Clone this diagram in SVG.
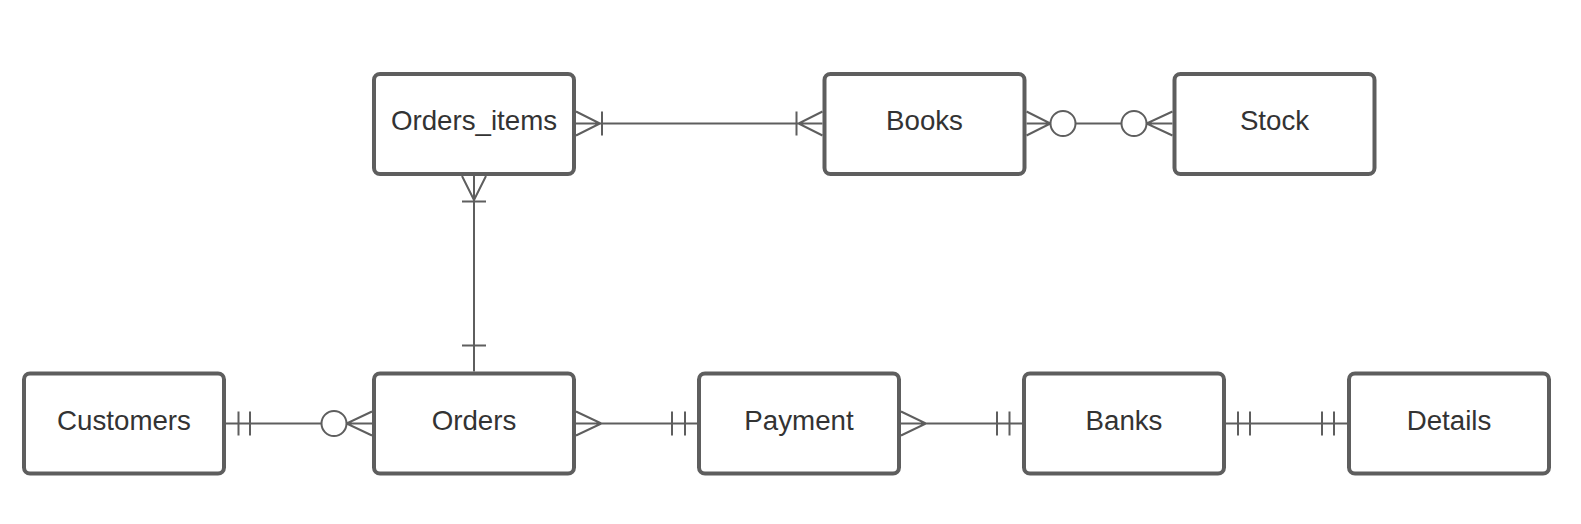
<svg xmlns="http://www.w3.org/2000/svg" width="1581" height="524" viewBox="0 0 1581 524">
<style>
.box{fill:#ffffff;stroke:#5e5e5e;stroke-width:4}
.lbl{font-family:"Liberation Sans",Arial,sans-serif;font-size:27.7px;fill:#333333;text-anchor:middle}
.c{fill:none;stroke:#5e5e5e;stroke-width:2}
.o{fill:#ffffff;stroke:#5e5e5e;stroke-width:2}
</style>
<rect width="1581" height="524" fill="#ffffff"/>
<g id="connectors">
  <!-- Orders_items - Books -->
  <path class="c" d="M576 123.5H822.5 M576 111.5L600 123.5L576 135.5 M602 111.5V135.5 M822.5 111.5L798.5 123.5L822.5 135.5 M796.5 111.5V135.5"/>
  <!-- Books - Stock -->
  <path class="c" d="M1026.5 123.5H1172.5 M1026.5 111.5L1050.5 123.5L1026.5 135.5 M1172.5 111.5L1146.5 123.5L1172.5 135.5"/>
  <circle class="o" cx="1063" cy="123.5" r="12.5"/>
  <circle class="o" cx="1134" cy="123.5" r="12.5"/>
  <!-- Orders_items - Orders -->
  <path class="c" d="M474 176V371.5 M462 176L474 200L486 176 M462 201.5H486 M462 345.5H486"/>
  <!-- Customers - Orders -->
  <path class="c" d="M226 423.5H372 M238.5 411.5V435.5 M250 411.5V435.5 M372 411.5L346.5 423.5L372 435.5"/>
  <circle class="o" cx="334" cy="423.5" r="12.5"/>
  <!-- Orders - Payment -->
  <path class="c" d="M576 423.5H697 M576 411.5L601.5 423.5L576 435.5 M672 411.5V435.5 M685 411.5V435.5"/>
  <!-- Payment - Banks -->
  <path class="c" d="M901 423.5H1022 M901 411.5L926 423.5L901 435.5 M997 411.5V435.5 M1009.5 411.5V435.5"/>
  <!-- Banks - Details -->
  <path class="c" d="M1226 423.5H1347 M1238 411.5V435.5 M1250 411.5V435.5 M1322 411.5V435.5 M1334 411.5V435.5"/>
</g>
<g id="node-orders-items"><rect class="box" x="374" y="74" width="200" height="100" rx="6"/><text class="lbl" x="474" y="130">Orders_items</text></g>
<g id="node-books"><rect class="box" x="824.5" y="74" width="200" height="100" rx="6"/><text class="lbl" x="924.5" y="130">Books</text></g>
<g id="node-stock"><rect class="box" x="1174.5" y="74" width="200" height="100" rx="6"/><text class="lbl" x="1274.5" y="130">Stock</text></g>
<g id="node-customers"><rect class="box" x="24" y="373.5" width="200" height="100" rx="6"/><text class="lbl" x="124" y="430">Customers</text></g>
<g id="node-orders"><rect class="box" x="374" y="373.5" width="200" height="100" rx="6"/><text class="lbl" x="474" y="430">Orders</text></g>
<g id="node-payment"><rect class="box" x="699" y="373.5" width="200" height="100" rx="6"/><text class="lbl" x="799" y="430">Payment</text></g>
<g id="node-banks"><rect class="box" x="1024" y="373.5" width="200" height="100" rx="6"/><text class="lbl" x="1124" y="430">Banks</text></g>
<g id="node-details"><rect class="box" x="1349" y="373.5" width="200" height="100" rx="6"/><text class="lbl" x="1449" y="430">Details</text></g>
</svg>
